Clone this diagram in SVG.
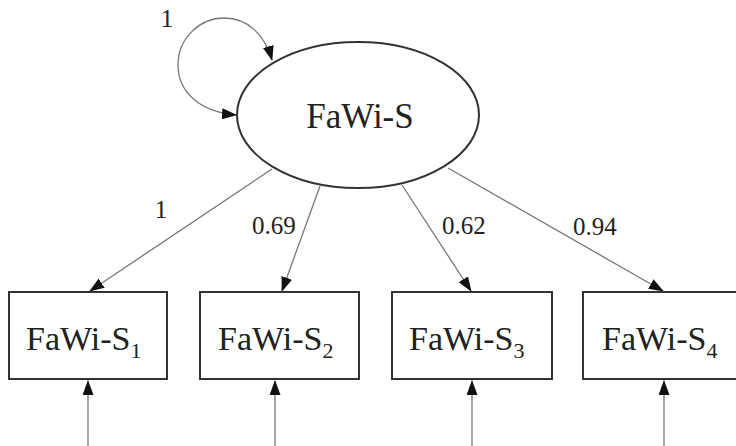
<svg xmlns="http://www.w3.org/2000/svg" width="736" height="446" viewBox="0 0 736 446" font-family="Liberation Serif, Times New Roman, DejaVu Serif, serif">
<style>
.node{fill:#fff;stroke:#333;stroke-width:2}
.c{fill:none;stroke:#777;stroke-width:1.3}
.lbl{font-size:25px}
</style>
<defs>
<marker id="ah" markerWidth="15" markerHeight="11" refX="14" refY="5.5" orient="auto-start-reverse" markerUnits="userSpaceOnUse">
<path d="M0,0 L15,5.5 L0,11 Z" fill="#111"/>
</marker>
</defs>
<rect width="736" height="446" fill="#fff"/>
<g id="connectors">
<path class="c" d="M236,115 C200,112 178,92 178,65 C178,38 200,18 224,18 C248,18 265,35 272,60" marker-start="url(#ah)" marker-end="url(#ah)"/>
<line class="c" x1="272" y1="169" x2="90" y2="291" marker-end="url(#ah)"/>
<line class="c" x1="320" y1="186" x2="282" y2="291" marker-end="url(#ah)"/>
<line class="c" x1="402" y1="185" x2="471" y2="291" marker-end="url(#ah)"/>
<line class="c" x1="448" y1="168" x2="663" y2="291" marker-end="url(#ah)"/>
<line class="c" x1="88" y1="446" x2="88" y2="381" marker-end="url(#ah)"/>
<line class="c" x1="275" y1="446" x2="275" y2="381" marker-end="url(#ah)"/>
<line class="c" x1="472" y1="446" x2="472" y2="381" marker-end="url(#ah)"/>
<line class="c" x1="664" y1="446" x2="664" y2="381" marker-end="url(#ah)"/>
</g>
<g id="labels" fill="#222">
<text class="lbl" x="167" y="27" text-anchor="middle">1</text>
<text class="lbl" x="161" y="218" text-anchor="middle">1</text>
<text class="lbl" x="252" y="234">0.69</text>
<text class="lbl" x="442" y="234">0.62</text>
<text class="lbl" x="573" y="235">0.94</text>
</g>
<g id="FaWi-S">
<ellipse class="node" cx="358" cy="115" rx="121" ry="73" stroke-width="1.8"/>
<text x="360" y="128" font-size="35" text-anchor="middle" fill="#222">FaWi-S</text>
</g>
<g id="FaWi-S1">
<rect class="node" x="9" y="292" width="158" height="87"/>
<text x="26" y="350" font-size="34" fill="#222">FaWi-S<tspan font-size="22" dy="8">1</tspan></text>
</g>
<g id="FaWi-S2">
<rect class="node" x="200" y="292" width="159" height="87"/>
<text x="218" y="350" font-size="34" fill="#222">FaWi-S<tspan font-size="22" dy="8">2</tspan></text>
</g>
<g id="FaWi-S3">
<rect class="node" x="392" y="292" width="160" height="87"/>
<text x="409" y="350" font-size="34" fill="#222">FaWi-S<tspan font-size="22" dy="8">3</tspan></text>
</g>
<g id="FaWi-S4">
<rect class="node" x="583" y="292" width="160" height="87"/>
<text x="602" y="350" font-size="34" fill="#222">FaWi-S<tspan font-size="22" dy="8">4</tspan></text>
</g>
</svg>
